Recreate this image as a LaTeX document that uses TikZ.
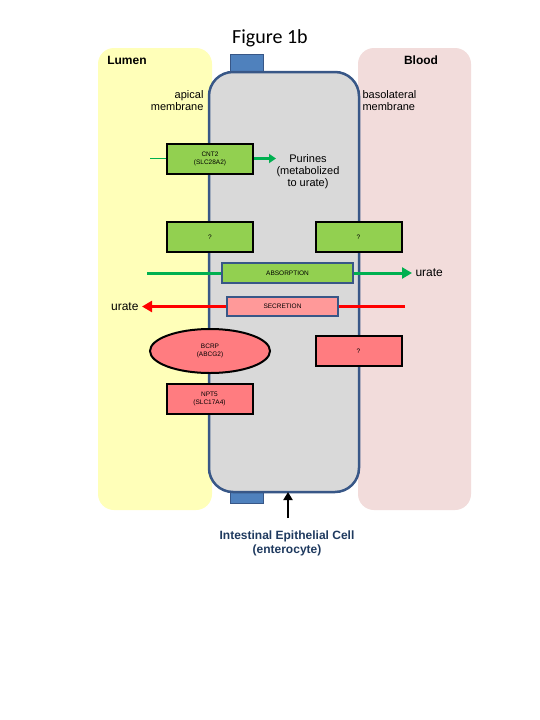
\documentclass[tikz,border=0pt]{standalone}
\usepackage{fontspec}
\setmainfont{Liberation Sans}
\newfontfamily\calib{Carlito}
\usetikzlibrary{shapes.geometric,arrows.meta}
\definecolor{lumen}{RGB}{255,255,185}
\definecolor{blood}{RGB}{242,220,219}
\definecolor{cellg}{RGB}{217,217,217}
\definecolor{cellb}{RGB}{56,87,135}
\definecolor{capb}{RGB}{79,129,189}
\definecolor{gfill}{RGB}{146,208,80}
\definecolor{garrow}{RGB}{0,176,80}
\definecolor{pfill}{RGB}{255,124,128}
\definecolor{sfill}{RGB}{255,153,153}
\definecolor{txtb}{RGB}{31,58,95}
\begin{document}
\begin{tikzpicture}[x=1pt,y=-1pt,
  panel/.style={rounded corners=16pt},
  tbox/.style={draw=black,line width=2pt,minimum width=86pt,minimum height=30pt,inner sep=0pt,align=center,font=\fontsize{6.5}{8}\selectfont},
  gbox/.style={tbox,fill=gfill},
  pbox/.style={tbox,fill=pfill},
  flowbox/.style={draw=cellb,line width=2pt,inner sep=0pt,font=\fontsize{6.5}{8}\selectfont},
  lbl/.style={font=\fontsize{12}{13}\selectfont\bfseries},
  mlbl/.style={font=\fontsize{11}{12}\selectfont,align=center},
  garr/.style={draw=garrow,line width=3pt},
  rarr/.style={draw=red,line width=3pt}
]
\useasboundingbox (0,0) rectangle (540,720);
\fill[white] (0,0) rectangle (540,720);
% panels
\fill[lumen,panel] (98,48) rectangle (212,510);
\fill[blood,panel] (358,48) rectangle (471,510);
% caps
\draw[fill=capb,draw=cellb,line width=1pt] (230,54) rectangle (263,72);
\draw[fill=capb,draw=cellb,line width=1pt] (230,492) rectangle (263,503);
% cell
\draw[fill=cellg,draw=cellb,line width=2.5pt,rounded corners=24pt] (209,72) rectangle (359,492);
% titles
\node[font=\calib\fontsize{20}{22}\selectfont] (fig) at (270,38) {Figure 1b};
\node[lbl] (lumen) at (127,60) {Lumen};
\node[lbl] (blood) at (421,60) {Blood};
\node[mlbl,align=right,anchor=east] (apical) at (207,101) {apical\\membrane};
\node[mlbl,align=left,anchor=west] (baso) at (359,101) {basolateral\\membrane};
% boxes
\node[gbox] (cnt2) at (210,158.5) {CNT2\\(SLC28A2)};
\node[mlbl] (purines) at (308,172) {Purines\\(metabolized\\to urate)};
\node[gbox] (q1) at (210,237) {?};
\node[gbox] (q2) at (358.5,237) {?};
\node[flowbox,fill=gfill,minimum width=131pt,minimum height=20pt] (abs) at (287.5,273) {ABSORPTION};
\node[flowbox,fill=sfill,minimum width=111pt,minimum height=19pt] (sec) at (282.5,306.5) {SECRETION};
\node[ellipse,draw=black,line width=2pt,fill=pfill,minimum width=120pt,minimum height=44pt,inner sep=0pt,align=center,font=\fontsize{6.5}{8}\selectfont] (bcrp) at (210,351) {BCRP\\(ABCG2)};
\node[pbox] (q3) at (358.5,351) {?};
\node[pbox] (npt5) at (209.5,398.5) {NPT5\\(SLC17A4)};
\node[font=\fontsize{12}{13}\selectfont,anchor=west] (urR) at (412,273) {urate};
\node[font=\fontsize{12}{13}\selectfont,anchor=east] (urL) at (142,306.5) {urate};
\coordinate (cntin) at (150,158.5);
\coordinate (absin) at (147,273);
\coordinate (secin) at (405,306.5);
% connectors
\draw[draw=garrow,line width=1.5pt] (cntin) -- (cnt2.west);
\draw[draw=garrow,line width=2.5pt,-{Triangle[length=7pt,width=9pt]}] (cnt2.east) -- (276,158.5);
\draw[garr] (absin) -- (abs.west);
\draw[garr,-{Triangle[length=10pt,width=11pt]}] (abs.east) -- (urR.west);
\draw[rarr] (secin) -- (sec.east);
\draw[rarr,-{Triangle[length=10pt,width=11pt]}] (sec.west) -- (urL.east);
% bottom label
\node[font=\fontsize{12}{14}\selectfont\bfseries,text=txtb,align=center] (iec) at (287,543) {Intestinal Epithelial Cell\\(enterocyte)};
\draw[line width=2pt,-{Triangle[length=8pt,width=9pt]}] (288,518) -- (288,492);
\end{tikzpicture}
\end{document}
